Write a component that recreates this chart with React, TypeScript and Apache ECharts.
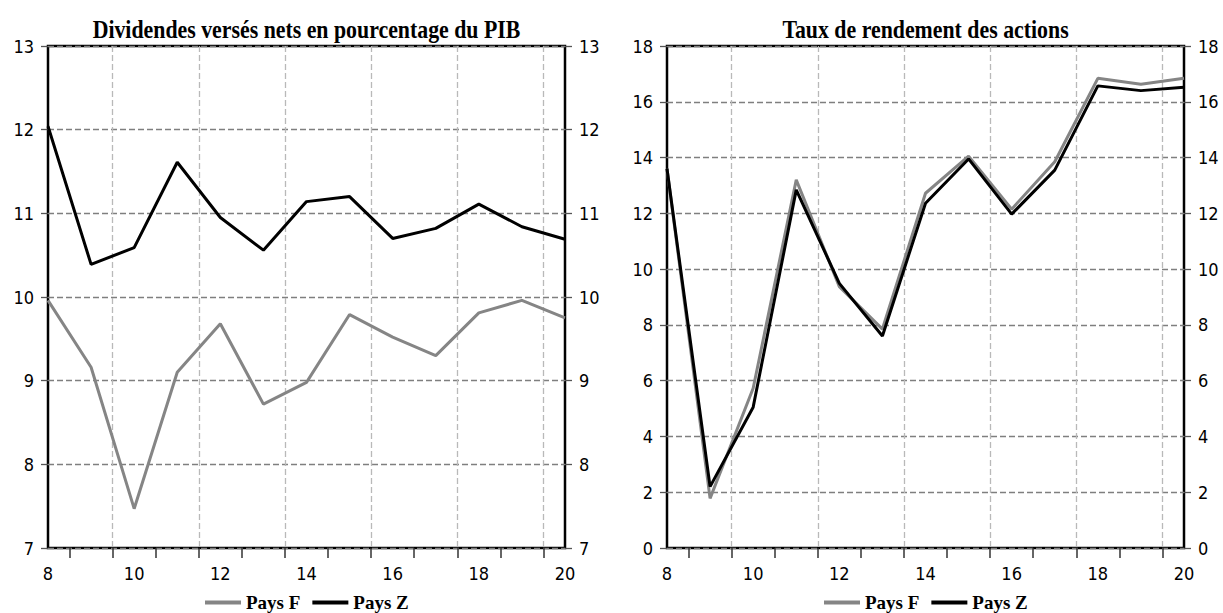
import { useEffect, useRef } from "react";
import * as echarts from "echarts";

// ---- data ----
const years = [8, 9, 10, 11, 12, 13, 14, 15, 16, 17, 18, 19, 20];
const dividendesF = [9.96, 9.16, 7.47, 9.1, 9.68, 8.72, 8.98, 9.79, 9.52, 9.3, 9.81, 9.96, 9.75];
const dividendesZ = [12.04, 10.39, 10.59, 11.61, 10.95, 10.56, 11.14, 11.2, 10.7, 10.82, 11.11, 10.84, 10.69];
const rendementF = [13.6, 1.78, 5.73, 13.2, 9.37, 7.85, 12.72, 14.05, 12.15, 13.85, 16.84, 16.63, 16.84];
const rendementZ = [13.6, 2.2, 5.05, 12.84, 9.49, 7.6, 12.36, 13.95, 11.97, 13.55, 16.57, 16.4, 16.52];
const xLabelValues = [8, 10, 12, 14, 16, 18, 20];
const xTickValues = [8.5, 9.5, 10.5, 11.5, 12.5, 13.5, 14.5, 15.5, 16.5, 17.5, 18.5, 19.5];
const xGridValues = [9.5, 11.5, 13.5, 15.5, 17.5, 19.5];
const titles = ["Dividendes versés nets en pourcentage du PIB", "Taux de rendement des actions"];
const seriesNames = ["Pays F", "Pays Z"];

const GRAY = "#858585";
const BLACK = "#000000";
const AXIS_FONT = "'DejaVu Sans Condensed', 'DejaVu Sans', sans-serif";
const SERIF = "'Liberation Serif', 'Times New Roman', serif";

const PLOT_W = 517;
const PLOT_H = 502;
const PLOT_TOP = 46;
const LEFTS = [48, 667];

function pairs(ys: number[]) {
  return years.map((x, i) => [x, ys[i]]);
}

export default function App() {
  const ref = useRef<HTMLDivElement>(null);
  useEffect(() => {
    if (!ref.current) return;
    const chart = echarts.init(ref.current, null, { renderer: "svg" });

    const xAxes: any[] = [];
    const yAxes: any[] = [];
    const yRanges = [
      { min: 7, max: 13, interval: 1 },
      { min: 0, max: 18, interval: 2 },
    ];
    [0, 1].forEach((g) => {
      xAxes.push({
        gridIndex: g,
        type: "value",
        min: 8,
        max: 20,
        position: "bottom",
        axisLine: { show: false },
        axisTick: {
          show: true,
          customValues: xTickValues,
          length: 10,
          inside: false,
          lineStyle: { color: "#333", width: 1.5 },
        },
        axisLabel: {
          customValues: xLabelValues,
          margin: 16,
          fontFamily: AXIS_FONT,
          fontSize: 18,
          color: "#000",
        },
        splitLine: { show: false },
      });
      xAxes.push({
        gridIndex: g,
        type: "value",
        min: 8,
        max: 20,
        position: "top",
        axisLine: { show: false },
        axisTick: { show: false, customValues: xGridValues },
        axisLabel: { show: false },
        splitLine: { show: true, lineStyle: { color: "#b9b9b9", type: [6, 3], width: 1.3 } },
      });
      const r = yRanges[g];
      yAxes.push({
        gridIndex: g,
        type: "value",
        position: "left",
        ...r,
        axisLine: { show: false },
        axisTick: { show: true, length: 7, lineStyle: { color: "#555", width: 1.3 } },
        axisLabel: { margin: 14, fontFamily: AXIS_FONT, fontSize: 18, color: "#000" },
        splitLine: { show: true, lineStyle: { color: "#7f7f7f", type: [6, 3], width: 1.3 } },
      });
      yAxes.push({
        gridIndex: g,
        type: "value",
        position: "right",
        ...r,
        axisLine: { show: false },
        axisTick: { show: true, length: 7, lineStyle: { color: "#555", width: 1.3 } },
        axisLabel: { margin: 14, fontFamily: AXIS_FONT, fontSize: 18, color: "#000" },
        splitLine: { show: false },
      });
    });

    const mkSeries = (name: string, data: number[], color: string, g: number) => ({
      name,
      type: "line",
      xAxisIndex: g * 2,
      yAxisIndex: g * 2,
      data: pairs(data),
      showSymbol: false,
      symbol: "none",
      lineStyle: { color, width: 3 },
      itemStyle: { color },
      z: 5,
    });

    const legendBase = {
      top: 588,
      icon: "rect",
      itemWidth: 36,
      itemHeight: 4,
      itemGap: 12,
      data: seriesNames,
      textStyle: { fontFamily: SERIF, fontWeight: "bold", fontSize: 19, color: "#000" },
    };

    chart.setOption({
      animation: false,
      backgroundColor: "#fff",
      grid: LEFTS.map((l) => ({
        left: l,
        top: PLOT_TOP,
        width: PLOT_W,
        height: PLOT_H,
        show: true,
        borderColor: "#000",
        borderWidth: 2.5,
        backgroundColor: "transparent",
      })),
      xAxis: xAxes,
      yAxis: yAxes,
      legend: [
        { ...legendBase, left: 200 },
        { ...legendBase, left: 819 },
      ],
      graphic: titles.map((t, g) => ({
        type: "text",
        x: LEFTS[g] + PLOT_W / 2,
        y: 29,
        scaleX: 0.84,
        style: {
          text: t,
          font: `bold 26px ${SERIF}`,
          fill: "#000",
          textAlign: "center",
          textVerticalAlign: "middle",
        },
      })),
      series: [
        mkSeries(seriesNames[0], dividendesF, GRAY, 0),
        mkSeries(seriesNames[1], dividendesZ, BLACK, 0),
        mkSeries(seriesNames[0], rendementF, GRAY, 1),
        mkSeries(seriesNames[1], rendementZ, BLACK, 1),
      ],
    });
    return () => chart.dispose();
  }, []);
  return (
    <div
      ref={ref}
      style={{ position: "fixed", left: 0, top: 0, width: 1223, height: 613, background: "#fff" }}
    />
  );
}
